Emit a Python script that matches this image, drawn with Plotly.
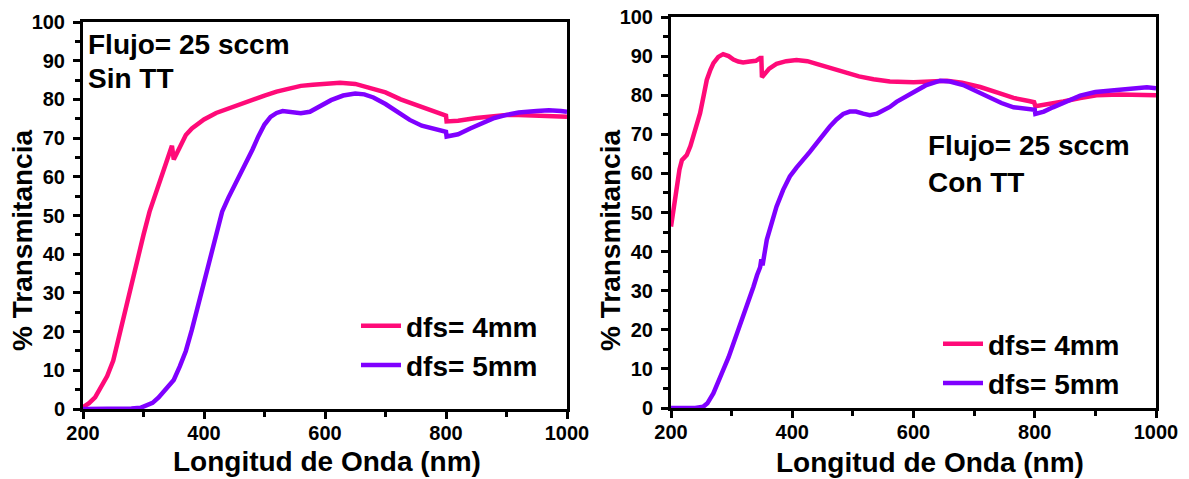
import plotly.graph_objects as go

W, H = 1189, 479

# ---------------- data ----------------
x_l4 = [200,210,220,230,240,250,260,270,280,290,300,310,320,330,340,347,350,355,360,370,380,390,400,420,440,460,480,500,520,540,560,580,600,625,650,670,700,725,750,775,795,800,801,820,850,880,900,920,950,980,1000]
y_l4 = [0.5,1.5,3,5.5,8.5,12.5,19,26,33,39,45,51,55.5,60,64.5,68,64.5,66,68,70.8,72.5,73.8,74.8,76.5,77.7,78.8,80,81,82,82.8,83.5,83.8,84,84.3,84,83.2,81.8,80,78.5,77,76,75.8,74.3,74.5,75.2,75.7,76,76,75.8,75.6,75.5]

x_l5 = [200,250,280,295,305,315,325,335,345,350,360,370,380,390,400,410,420,430,440,450,460,470,480,490,500,510,520,530,545,560,575,590,610,630,650,665,680,700,720,740,760,780,798,800,801,820,840,860,880,900,920,950,970,990,1000]
y_l5 = [0,0,0.1,0.3,0.8,1.6,3,4.8,6.8,7.5,11,15,20.5,26.5,32.5,38.5,45,51,54.5,57.5,60.5,63.5,67,70.5,73.5,75.5,76.5,77,76.8,76.4,76.8,78,79.8,81,81.5,81.3,80.5,78.8,76.8,74.7,73.2,72.4,71.8,71.6,70.4,71,72.5,74,75.2,76,76.6,77,77.2,77,76.8]

x_r4 = [200,205,209,214,218,222,226,232,237,243,248,254,259,265,270,278,286,295,303,311,319,330,340,347,349,350,355,362,374,390,407,425,440,460,484,510,534,561,600,630,655,680,710,740,765,790,799,801,820,847,875,902,940,970,1000]
y_r4 = [46.4,52,57,61,63.4,64.3,64.7,67,69.4,72.5,75.4,80,83.9,86.5,88.2,89.8,90.5,90,89.1,88.6,88.4,88.6,88.8,89.5,89.5,84.6,85.5,86.8,88,88.7,89,88.7,88,87,85.8,84.8,84.1,83.5,83.3,83.6,83.7,83.2,82.1,80.6,79.3,78.5,78.2,77.2,77.6,78.4,79.3,80,80.2,80.1,80]

x_r5 = [200,240,253,260,270,278,286,295,303,311,319,328,336,342,347,349,351,358,366,374,385,396,407,418,429,440,451,462,473,484,495,505,517,528,540,550,561,572,585,600,620,644,660,682,705,726,745,765,785,797,800,801,815,830,850,875,900,930,950,968,985,1000]
y_r5 = [0,0,0.3,1.2,3.8,6.5,9.7,13,16.5,20,23.3,27,31,34,36,38,36.5,43,47.5,51.5,55.8,59.2,61.5,63.4,65.5,67.7,70,72,73.8,75.2,75.8,75.8,75.3,74.9,75.3,76,77,78.3,79.5,80.8,82.5,83.7,83.5,82.6,80.9,79.2,78,76.9,76.6,76.5,76.3,75.2,75.8,76.9,78.3,79.9,80.8,81.3,81.7,82,82,81.8]

series_names = ["dfs= 4mm", "dfs= 5mm"]
panel_notes = [["Flujo= 25 sccm", "Sin TT"], ["Flujo= 25 sccm", "Con TT"]]
x_ticks = [200, 400, 600, 800, 1000]
y_ticks = list(range(0, 101, 10))
x_title = "Longitud de Onda (nm)"
y_title = "% Transmitancia"

PINK = "#FF0A78"
PURPLE = "#7F00FF"
FONT = "Liberation Sans"


def px(x):
    return x / W


def py(y):
    return 1 - y / H


fig = go.Figure()
fig.add_trace(go.Scatter(x=x_l4, y=y_l4, mode="lines", name=series_names[0],
                         line=dict(color=PINK, width=4.5), xaxis="x", yaxis="y", legend="legend"))
fig.add_trace(go.Scatter(x=x_l5, y=y_l5, mode="lines", name=series_names[1],
                         line=dict(color=PURPLE, width=4.5), xaxis="x", yaxis="y", legend="legend"))
fig.add_trace(go.Scatter(x=x_r4, y=y_r4, mode="lines", name=series_names[0],
                         line=dict(color=PINK, width=4.5), xaxis="x2", yaxis="y2", legend="legend2"))
fig.add_trace(go.Scatter(x=x_r5, y=y_r5, mode="lines", name=series_names[1],
                         line=dict(color=PURPLE, width=4.5), xaxis="x2", yaxis="y2", legend="legend2"))

tickfont = dict(family=FONT, size=20, color="black", weight="bold")

common_x = dict(range=[200, 1000], tickvals=x_ticks, ticks="outside", ticklen=7, tickwidth=3,
                tickcolor="black", showline=True, linewidth=3, linecolor="black", mirror=True,
                showgrid=False, zeroline=False, tickfont=tickfont, automargin=False,
                ticklabeloverflow="allow", ticklabelstandoff=-3,
                minor=dict(dtick=100, tick0=200, ticks="outside", ticklen=5, tickwidth=2.5, tickcolor="black"))
common_y = dict(range=[0, 100], tickvals=y_ticks, ticks="outside", ticklen=7, tickwidth=3,
                tickcolor="black", showline=True, linewidth=3, linecolor="black", mirror=True,
                showgrid=False, zeroline=False, tickfont=tickfont, ticklabelstandoff=4, automargin=False,
                ticklabeloverflow="allow",
                minor=dict(dtick=5, tick0=0, ticks="outside", ticklen=5, tickwidth=2.5, tickcolor="black"))

legfont = dict(family=FONT, size=28, color="black", weight="bold")

fig.update_layout(
    width=W, height=H,
    margin=dict(l=0, r=0, t=0, b=0, autoexpand=False),
    paper_bgcolor="white", plot_bgcolor="white",
    xaxis=dict(domain=[px(83), px(567)], anchor="y", **common_x),
    yaxis=dict(domain=[py(409), py(22)], anchor="x", **common_y),
    xaxis2=dict(domain=[px(671), px(1156)], anchor="y2", **common_x),
    yaxis2=dict(domain=[py(408), py(17)], anchor="x2", **common_y),
    legend=dict(x=px(356), y=py(301), xanchor="left", yanchor="top", font=legfont,
                bgcolor="rgba(0,0,0,0)", tracegroupgap=0, itemwidth=40),
    legend2=dict(x=px(938), y=py(319), xanchor="left", yanchor="top", font=legfont,
                 bgcolor="rgba(0,0,0,0)", tracegroupgap=0, itemwidth=40),
    showlegend=True,
)

annfont = dict(family=FONT, size=28, color="black", weight="bold")
anns = []
# panel notes
for (x0, y0, y1), notes in zip([(86, 44, 78), (926, 145, 182)], panel_notes):
    anns.append(dict(text=notes[0], x=px(x0), y=py(y0), xref="paper", yref="paper",
                     xanchor="left", yanchor="middle", showarrow=False, font=annfont))
    anns.append(dict(text=notes[1], x=px(x0), y=py(y1), xref="paper", yref="paper",
                     xanchor="left", yanchor="middle", showarrow=False, font=annfont))
# axis titles
titlefont = dict(family=FONT, size=28, color="black", weight="bold")
for xc, yc in [(22, 241), (610, 241)]:
    anns.append(dict(text=y_title, x=px(xc), y=py(yc), xref="paper", yref="paper",
                     xanchor="center", yanchor="middle", textangle=-90, showarrow=False, font=titlefont))
for xc, yc in [(327, 461), (930, 462)]:
    anns.append(dict(text=x_title, x=px(xc), y=py(yc), xref="paper", yref="paper",
                     xanchor="center", yanchor="middle", showarrow=False, font=titlefont))
fig.update_layout(annotations=anns)

# remove the browser's default page margin so the figure fills the window exactly
fig.write_html("out.html", config={"displayModeBar": False},
               post_script="document.body.style.margin='0';document.body.style.overflow='hidden';")
